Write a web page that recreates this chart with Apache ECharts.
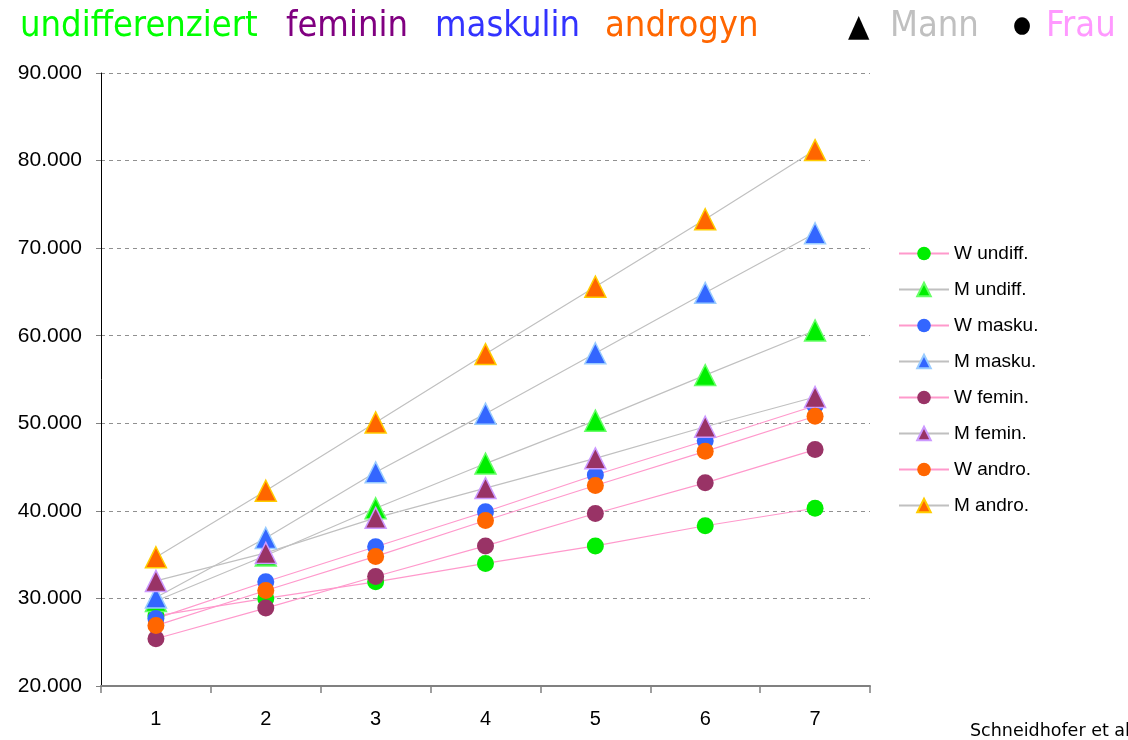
<!DOCTYPE html>
<html>
<head>
<meta charset="utf-8">
<script src="https://cdn.jsdelivr.net/npm/echarts@6/dist/echarts.min.js"></script>
<style>
  html, body { margin: 0; padding: 0; background: #fff; }
  #main { width: 1128px; height: 740px; }
</style>
</head>
<body>
<div id="main"></div>
<script>
  // Kategorien (x-Achse)
  let categories = ['1', '2', '3', '4', '5', '6', '7'];
  // Werte je Gruppe, W = Frau, M = Mann
  let wUndiff = [28000, 30000, 31900, 34000, 36000, 38300, 40300];
  let mUndiff = [29700, 34900, 40300, 45400, 50300, 55500, 60600];
  let wMasku = [27700, 31900, 35900, 39900, 44100, 48000, 52000];
  let mMasku = [30100, 36900, 44400, 51100, 58000, 64900, 71700];
  let wFemin = [25400, 28900, 32500, 36000, 39700, 43200, 47000];
  let mFemin = [32000, 35200, 39200, 42600, 46000, 49600, 53000];
  let wAndro = [26900, 30900, 34800, 38900, 42900, 46800, 50800];
  let mAndro = [34700, 42300, 50100, 57900, 65600, 73300, 81200];

  let main = document.getElementById('main');
  let myChart = echarts.init(main);

  // eine Linie bauen
  function makeSeries(name, data, female, color, border) {
    return {
      name: name,
      type: 'line',
      data: data,
      symbol: female ? 'circle' : 'triangle',
      symbolSize: female ? 17 : 21,
      showAllSymbol: true,
      lineStyle: { color: female ? '#ff99cc' : '#c0c0c0', width: 1.2 },
      itemStyle: {
        color: color,
        borderColor: border || color,
        borderWidth: female ? 0 : 1.5
      },
      emphasis: { disabled: true },
      animation: false
    };
  }

  // Überschrift-Teile
  function headText(x, y, text, color, size) {
    return {
      type: 'text',
      left: x,
      top: y,
      style: {
        text: text,
        fill: color,
        font: size + 'px "DejaVu Sans Condensed", "DejaVu Sans", sans-serif'
      }
    };
  }

  let option = {
    backgroundColor: '#fff',
    animation: false,
    grid: { left: 101, right: 258, top: 73, bottom: 54 },
    graphic: [
      headText(20, 9, 'undifferenziert', '#00ff00', 36),
      headText(286, 9, 'feminin', '#800080', 36),
      headText(435, 9, 'maskulin', '#3333ff', 36),
      headText(605, 9, 'androgyn', '#ff6600', 36),
      headText(848, 12, '▲', '#000', 31),
      headText(890, 9, 'Mann', '#c0c0c0', 36),
      headText(1013, 15, '●', '#000', 23),
      headText(1046, 9, 'Frau', '#ff99ff', 36),
      {
        type: 'text',
        left: 970,
        top: 722,
        style: {
          text: 'Schneidhofer et al.',
          fill: '#000',
          font: '17.5px "DejaVu Sans", Verdana, sans-serif'
        }
      }
    ],
    legend: {
      orient: 'vertical',
      left: 893,
      top: 239,
      itemWidth: 50,
      itemHeight: 17,
      itemGap: 17,
      selectedMode: false,
      textStyle: {
        fontFamily: '"Liberation Sans", Arial, sans-serif',
        fontSize: 19,
        color: '#000'
      }
    },
    xAxis: {
      type: 'category',
      data: categories,
      boundaryGap: true,
      axisLine: { lineStyle: { color: '#808080', width: 2 } },
      axisTick: { show: true, length: 7, lineStyle: { color: '#808080', width: 1.5 } },
      axisLabel: {
        color: '#000',
        fontSize: 20,
        fontFamily: '"Liberation Sans", Arial, sans-serif',
        margin: 23
      }
    },
    yAxis: {
      type: 'value',
      min: 20000,
      max: 90000,
      interval: 10000,
      axisLine: { show: true, lineStyle: { color: '#000', width: 1 } },
      axisTick: { show: true, length: 5, lineStyle: { color: '#808080' } },
      splitLine: { lineStyle: { color: '#909090', type: [4, 4], width: 1 } },
      axisLabel: {
        color: '#000',
        fontSize: 21,
        fontFamily: '"Liberation Sans", Arial, sans-serif',
        margin: 19,
        formatter: function (v) {
          return (v / 1000) + '.000';
        }
      }
    },
    series: [
      makeSeries('W undiff.', wUndiff, true, '#00ee00'),
      makeSeries('M undiff.', mUndiff, false, '#00ee00', '#66ff66'),
      makeSeries('W masku.', wMasku, true, '#3366ff'),
      makeSeries('M masku.', mMasku, false, '#3366ff', '#99ccff'),
      makeSeries('W femin.', wFemin, true, '#993366'),
      makeSeries('M femin.', mFemin, false, '#993366', '#cc99ff'),
      makeSeries('W andro.', wAndro, true, '#ff6600'),
      makeSeries('M andro.', mAndro, false, '#ff6600', '#ffcc00')
    ]
  };
  myChart.setOption(option);
</script>
</body>
</html>
